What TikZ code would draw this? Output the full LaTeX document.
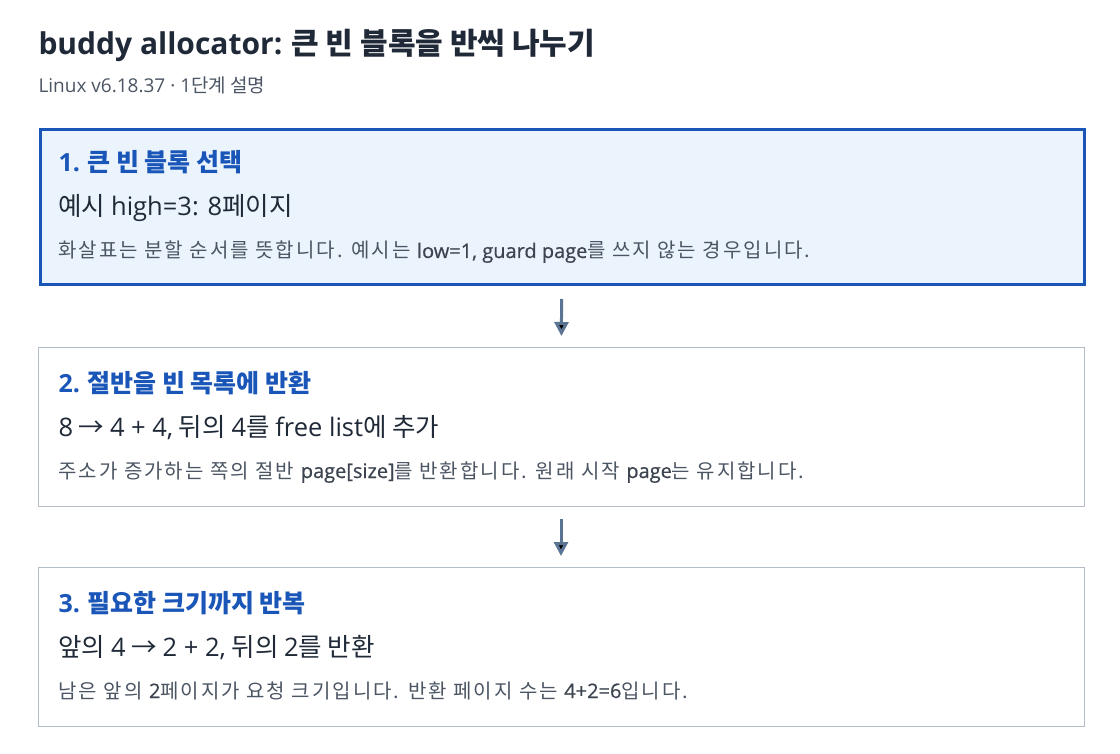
\documentclass[tikz,border=0pt]{standalone}
\usepackage{fontspec}
\setmainfont{Noto Sans CJK KR}
\newfontfamily\krwide[LetterSpace=10]{Noto Sans CJK KR}
\newfontfamily\latin{Open Sans}
\newfontfamily\latinmid[FakeBold=0.6]{Open Sans}
\usepackage{tikz}
\usetikzlibrary{positioning}
\usetikzlibrary{arrows.meta}
\definecolor{ink}{HTML}{1F2937}
\definecolor{stepblue}{HTML}{1A56B8}
\definecolor{stepfill}{HTML}{EBF3FD}
\definecolor{frame}{HTML}{B4BCC8}
\definecolor{note}{HTML}{4B5563}
\definecolor{flow}{HTML}{5B7493}
\newcommand{\lt}[1]{{\latin #1}}
\newcommand{\ltm}[1]{{\latinmid\color{note!80!black}#1}}

\begin{document}
\begin{tikzpicture}[
            x = 1pt, y = -1pt, % pixel grid
            > = {Triangle[length=14pt, width=14pt]}, % arrow head style
            shorten > = 10.5pt, % gap before next card
            shorten < = 12.5pt, % gap after card
            line width = 3pt
        ]

        \tikzset{
            card/.style = {draw = frame, line width = 1pt, fill = white,
                minimum width = 1046pt, minimum height = 159pt,
                inner sep = 0pt, anchor = north west},
            cardon/.style = {card, draw = stepblue, line width = 3pt,
                fill = stepfill, minimum width = 1044pt, minimum height = 155pt},
            title/.style = {anchor = base west, inner sep = 0pt, text = ink,
                font = \fontsize{30}{34}\selectfont\bfseries},
            sub/.style = {anchor = base west, inner sep = 0pt, text = note,
                font = \fontsize{19}{23}\selectfont},
            head/.style = {anchor = base west, inner sep = 0pt, text = stepblue,
                font = \fontsize{25}{29}\selectfont\bfseries},
            line/.style = {anchor = base west, inner sep = 0pt, text = ink,
                font = \fontsize{25.5}{29}\selectfont},
            note/.style = {anchor = base west, inner sep = 0pt, text = note,
                font = \fontsize{20}{24}\selectfont\krwide}
        }

        \useasboundingbox (0,0) rectangle (1120,754);

        % heading
        \node[title] (T) at (37,55) {\lt{buddy allocator:} 큰 빈 블록을 반씩 나누기};
        \node[sub] (S) at (37,93) {\lt{Linux v6.18.37 · 1}단계 설명};

        % cards
        \node[cardon] (C1) at (38.5,128.5) {};
        \node[card] (C2) at (37.5,346.5) {};
        \node[card] (C3) at (37.5,566.5) {};

        \path[->, draw = flow] (C1) edge (C2);
        \path[->, draw = flow] (C2) edge (C3);

        % step 1
        \node[head] (H1) at (57,172) {\lt{1.} 큰 빈 블록 선택};
        \node[line] (L1) at (57,216) {예시 \lt{high=3: 8}페이지};
        \node[note] (N1) at (57,258) {화살표는 분할 순서를 뜻합니다. 예시는 \ltm{low=1, guard page}를 쓰지 않는 경우입니다.};

        % step 2
        \node[head] (H2) at (57,392) {\lt{2.} 절반을 빈 목록에 반환};
        \node[line] (L2) at (57,436) {\lt{8} → \lt{4 + 4,} 뒤의 \lt{4}를 \lt{free list}에 추가};
        \node[note] (N2) at (57,478) {주소가 증가하는 쪽의 절반 \ltm{page[size]}를 반환합니다. 원래 시작 \ltm{page}는 유지합니다.};

        % step 3
        \node[head] (H3) at (57,612) {\lt{3.} 필요한 크기까지 반복};
        \node[line] (L3) at (57,656) {앞의 \lt{4} → \lt{2 + 2,} 뒤의 \lt{2}를 반환};
        \node[note] (N3) at (57,698) {남은 앞의 \ltm{2}페이지가 요청 크기입니다. 반환 페이지 수는 \ltm{4+2=6}입니다.};

  \end{tikzpicture}
\end{document}
